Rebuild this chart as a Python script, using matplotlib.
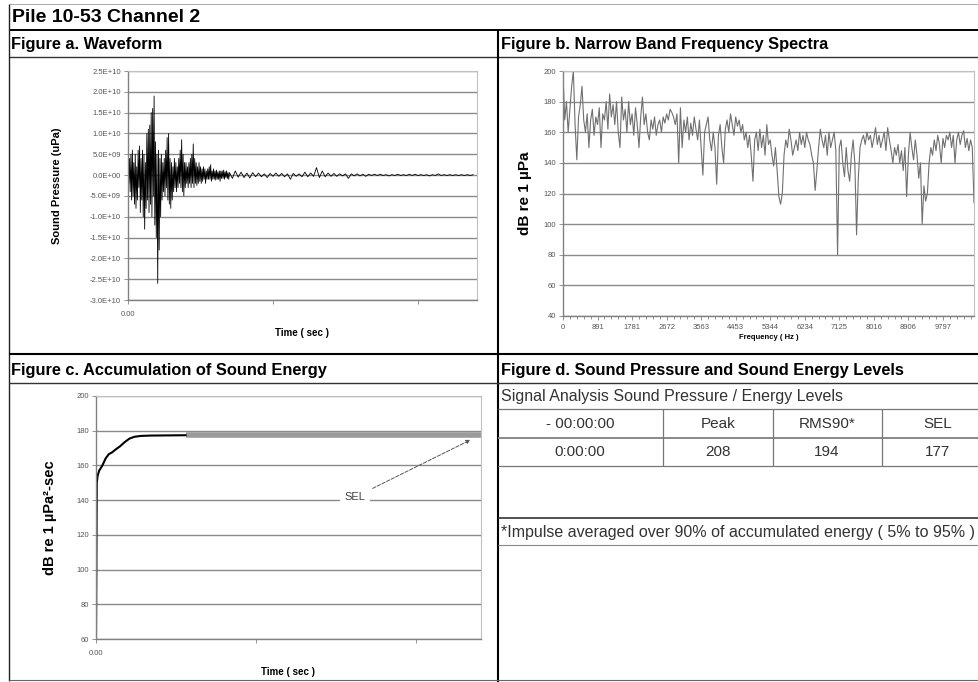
import numpy as np
import matplotlib
matplotlib.use("Agg")
import matplotlib.pyplot as plt

plt.rcParams['font.family'] = ['Liberation Sans', 'DejaVu Sans']

# ---------------- data ----------------
# Figure a: waveform, values in 1E10 uPa
wave_dt_head = 0.0005
wave_head = [
    0.3, -0.2, 0.4, -0.4, 0.5, -0.6, 0.6, -0.5, 0.3, -0.7,
    0.5, -0.8, 0.2, -0.6, 0.6, -0.3, 0.7, -0.9, 0.4, -0.6,
    0.6, -1.0, 0.5, -1.3, 0.3, -0.8, 1.0, -0.6, 1.1, -0.9,
    1.2, -0.7, 1.5, -1.0, 1.6, -0.5, 1.9, -1.2, 0.8, -1.5,
    0.5, -2.6, 0.6, -1.8, 0.4, -1.0, 0.5, -0.6, 0.3, -0.4,
    0.4, -0.5, 0.6, -0.3, 0.9, -0.6, 1.0, -0.7, 0.4, -0.8,
    0.3, -0.6, 0.2, -0.4, 0.4, -0.3, 0.3, -0.4, 0.2, -0.3,
    0.4, -0.2, 0.6, -0.3, 0.85, -0.4, 0.5, -0.5, 0.3, -0.3,
    0.3, -0.2, 0.2, -0.3, 0.3, -0.2, 0.4, -0.3, 0.5, -0.2,
    0.75, -0.3, 0.4, -0.2, 0.3, -0.25, 0.2, -0.2, 0.3, -0.15,
    0.2, -0.2, 0.15, -0.15, 0.2, -0.1, 0.15, -0.2, 0.1, -0.1,
    0.15, -0.1, 0.2, -0.1, 0.25, -0.15, 0.1, -0.1, 0.15, -0.1,
    0.1, -0.12, 0.12, -0.1, 0.08, -0.1, 0.1, -0.15, 0.1, -0.08,
    0.1, -0.08, 0.12, -0.1, 0.08, -0.06, 0.1, -0.08, 0.06, -0.1,
]
wave_dt_tail = 0.002
wave_tail = [
    0.06, -0.08, 0.1, -0.05, 0.07, -0.06, 0.05, -0.07, 0.06, -0.04,
    0.05, -0.04, 0.03, -0.06, 0.04, -0.03, 0.05, -0.03, 0.04, -0.04,
    0.03, -0.1, 0.04, -0.03, 0.03, -0.04, 0.07, -0.04, 0.05, -0.03,
    0.18, -0.06, 0.1, -0.04, 0.05, -0.03, 0.04, -0.03, 0.03, -0.02,
    0.03, -0.08, 0.03, -0.02, 0.03, -0.02, 0.02, -0.03, 0.02, -0.01,
    0.02, -0.01, 0.02, -0.01, 0.01, -0.02, 0.01, -0.01, 0.02, -0.01,
    0.01, -0.01, 0.02, -0.01, 0.02, -0.01, 0.01, -0.01, 0.01, -0.02,
    0.01, -0.01, 0.03, -0.01, 0.01, -0.01, 0.01, -0.01, 0.01, -0.01,
    0.01, -0.01, 0.01, -0.01, 0.01,
]
wave_yticks = [2.5e10, 2.0e10, 1.5e10, 1.0e10, 5.0e9, 0.0, -5.0e9,
               -1.0e10, -1.5e10, -2.0e10, -2.5e10, -3.0e10]
wave_yticklabels = ["2.5E+10", "2.0E+10", "1.5E+10", "1.0E+10", "5.0E+09", "0.0E+00",
                    "-5.0E+09", "-1.0E+10", "-1.5E+10", "-2.0E+10", "-2.5E+10", "-3.0E+10"]
time_ticks = [0.0, 0.1, 0.2]
time_ticklabels = ["0.00", "", ""]

# Figure b: narrow band spectrum, dB re 1 uPa per bin (bin = 44.53 Hz)
spec_db = [
    198, 168, 180, 160, 175, 190, 200, 165, 142, 170,
    178, 190, 168, 160, 172, 150, 168, 175, 158, 170,
    165, 176, 150, 172, 168, 180, 162, 185, 170, 178,
    165, 180, 160, 150, 183, 168, 175, 160, 180, 165,
    172, 158, 176, 165, 150, 170, 183, 165, 172, 160,
    155, 168, 162, 170, 158, 165, 168, 160, 170, 166,
    172, 168, 175, 173, 170, 165, 172, 140, 176, 150,
    168, 160, 170, 155, 166, 158, 170, 162, 155, 168,
    150, 132, 160, 165, 170, 155, 148, 160, 150, 126,
    158, 165, 150, 140, 162, 168, 160, 172, 165, 158,
    170, 164, 168, 160, 165, 155, 160, 150, 158, 145,
    128, 155, 160, 148, 162, 150, 158, 145, 165, 152,
    155, 145, 138, 150, 135, 118, 113, 120, 145, 155,
    150, 162, 155, 145, 150, 155, 148, 160, 152, 158,
    150, 160, 155, 152, 145, 140, 122, 135, 150, 162,
    155, 150, 158, 145, 160, 150, 155, 160, 148, 80,
    150, 155, 140, 131, 150, 135, 128, 145, 155, 140,
    93, 130, 150, 155, 158, 152, 160, 155, 158, 150,
    156, 163, 152, 158, 150, 155, 160, 148, 163, 155,
    148, 140, 150, 145, 152, 140, 148, 135, 150, 118,
    145, 160, 150, 142, 155, 145, 130, 140, 100, 125,
    115, 120, 140, 150, 145, 155, 148, 158, 152, 140,
    156, 150, 158, 155, 160, 150, 158, 140, 155, 160,
    152, 158, 161, 150, 156, 148, 155, 150, 114,
]
freq_labels = ["0", "891", "1781", "2672", "3563", "4453", "5344",
               "6234", "7125", "8016", "8906", "9797"]
spec_yticks = [40, 60, 80, 100, 120, 140, 160, 180, 200]

# Figure c: accumulated sound energy
cum_t = [0.0, 0.0005, 0.001, 0.002, 0.004, 0.006, 0.008, 0.010, 0.012,
         0.015, 0.018, 0.021, 0.024, 0.028, 0.034, 0.045, 0.056]
cum_db = [60, 150, 154, 157, 160, 164, 166.5, 167.5, 169,
          171, 173.5, 175.5, 176.5, 177, 177.2, 177.3, 177.4]
sel_band = [177.8, 177.8]
sel_band_t = [0.056, 0.2406]
cum_yticks = [60, 80, 100, 120, 140, 160, 180, 200]

# Figure d: table
table_head = ["- 00:00:00", "Peak", "RMS90*", "SEL"]
table_row = ["0:00:00", "208", "194", "177"]

# ---------------- figure ----------------
W, H = 979, 682
fig = plt.figure(figsize=(W / 100, H / 100), dpi=100)

# pixel overlay for the report frame
frame = fig.add_axes([0, 0, 1, 1])
frame.set_xlim(0, W)
frame.set_ylim(H, 0)
frame.axis("off")


def hline(y, x0, x1, color="black", lw=1.0):
    frame.plot([x0, x1], [y, y], color=color, lw=lw, solid_capstyle="butt")


def vline(x, y0, y1, color="black", lw=1.0):
    frame.plot([x, x], [y0, y1], color=color, lw=lw, solid_capstyle="butt")


hline(4, 9, W, "#b0b0b0", 0.8)
hline(30, 9, W, "black", 1.4)
hline(57, 9, W, "#333333", 1.0)
vline(9, 4, 681, "#222222", 1.0)
vline(498, 30, H, "black", 1.5)
hline(354, 9, W, "black", 1.5)
hline(383, 9, W, "#333333", 1.0)
hline(680, 9, W, "#666666", 0.8)
hline(409, 498, W, "#777777", 0.9)
hline(438, 498, W, "#888888", 1.4)
hline(466, 498, W, "#777777", 0.9)
hline(518, 498, W, "#333333", 1.2)
hline(545, 498, W, "#888888", 0.8)
for xc in [663, 773, 882]:
    vline(xc, 409, 466, "#777777", 0.9)

frame.text(12, 17, "Pile 10-53 Channel 2", fontsize=14, fontweight="bold", va="center")
frame.text(11, 44, "Figure a. Waveform", fontsize=11.8, fontweight="bold", va="center")
frame.text(501, 44, "Figure b. Narrow Band Frequency Spectra", fontsize=11.8,
           fontweight="bold", va="center")
frame.text(11, 370, "Figure c. Accumulation of Sound Energy", fontsize=11.8,
           fontweight="bold", va="center")
frame.text(501, 370, "Figure d. Sound Pressure and Sound Energy Levels", fontsize=11.8,
           fontweight="bold", va="center")
frame.text(501, 397, "Signal Analysis Sound Pressure / Energy Levels", fontsize=11.5,
           color="#333333", va="center")
for xc, h, r in zip([580, 718, 827, 938], table_head, table_row):
    frame.text(xc, 424, h, fontsize=11, color="#333333", ha="center", va="center")
    frame.text(xc, 452, r, fontsize=11, color="#333333", ha="center", va="center")
frame.text(501, 532, "*Impulse averaged over 90% of accumulated energy ( 5% to 95% )",
           fontsize=11.5, color="#333333", va="center")


def add_px_axes(l, t, r, b):
    return fig.add_axes([l / W, 1 - b / H, (r - l) / W, (b - t) / H])


def style(ax):
    for side in ["left", "bottom"]:
        ax.spines[side].set_color("#808080")
        ax.spines[side].set_linewidth(1.0)
    for side in ["top", "right"]:
        ax.spines[side].set_color("#c0c0c0")
        ax.spines[side].set_linewidth(0.8)
    ax.yaxis.grid(True, color="#8a8a8a", lw=1.0)
    ax.set_axisbelow(True)
    ax.tick_params(axis="both", direction="out", length=3, width=0.6, color="#808080",
                   labelsize=5.5, labelcolor="#555555", pad=2)


ylab_font = ['Liberation Sans Narrow', 'Liberation Sans', 'DejaVu Sans']

# Figure a
ax_a = add_px_axes(128, 71, 477, 300)
t_head = np.arange(len(wave_head)) * wave_dt_head
t_tail = t_head[-1] + wave_dt_head + np.arange(len(wave_tail)) * wave_dt_tail
wave_t = np.concatenate([t_head, t_tail])
wave_p = np.array(wave_head + wave_tail) * 1e10
style(ax_a)
ax_a.plot(wave_t, wave_p, color="black", lw=0.6)
ax_a.set_xlim(0, 0.2407)
ax_a.set_ylim(-3.0e10, 2.5e10)
ax_a.set_yticks(wave_yticks)
ax_a.set_yticklabels(wave_yticklabels)
ax_a.set_xticks(time_ticks)
ax_a.set_xticklabels(time_ticklabels)
ax_a.tick_params(axis="x", pad=5)
ax_a.set_xlabel("Time ( sec )", fontsize=7, fontweight="bold", labelpad=7)
ax_a.set_ylabel("Sound Pressure (uPa)", fontsize=8, fontweight="bold",
                family=ylab_font, labelpad=20)

# Figure b
ax_b = add_px_axes(563, 71, 974, 316)
style(ax_b)
bins = np.arange(len(spec_db))
ax_b.plot(bins, spec_db, color="#707070", lw=0.8)
ax_b.set_xlim(0, len(spec_db) - 1)
ax_b.set_ylim(40, 200)
ax_b.set_yticks(spec_yticks)
ax_b.set_xticks(np.arange(len(freq_labels)) * 20)
ax_b.set_xticklabels(freq_labels)
ax_b.set_xticks(np.arange(0, len(spec_db), 4), minor=True)
ax_b.tick_params(axis="x", which="minor", length=2, width=0.6, color="#808080")
ax_b.tick_params(axis="x", which="major", pad=3)
ax_b.set_xlabel("Frequency ( Hz )", fontsize=5.5, fontweight="bold", labelpad=2)
ax_b.set_ylabel("dB re 1 µPa", fontsize=11, fontweight="bold", family=ylab_font,
                labelpad=8)

# Figure c
ax_c = add_px_axes(96, 396, 481, 639)
style(ax_c)
ax_c.plot(sel_band_t, sel_band, color="#9a9a9a", lw=4, solid_capstyle="butt")
ax_c.plot(cum_t, cum_db, color="black", lw=1.5)
ax_c.set_xlim(0, 0.2406)
ax_c.set_ylim(60, 200)
ax_c.set_yticks(cum_yticks)
ax_c.set_xticks(time_ticks)
ax_c.set_xticklabels(time_ticklabels)
ax_c.tick_params(axis="x", pad=5)
ax_c.set_xlabel("Time ( sec )", fontsize=7, fontweight="bold", labelpad=7)
ax_c.set_ylabel("dB re 1 µPa²-sec", fontsize=10.5, fontweight="bold", family=ylab_font,
                labelpad=14)
ax_c.annotate("SEL", xy=(0.234, 174.7), xytext=(0.162, 141.8), fontsize=8,
              color="#444444", ha="center", va="center",
              bbox=dict(boxstyle="square,pad=0.4", fc="white", ec="none"),
              arrowprops=dict(arrowstyle="-|>", linestyle="--", color="#555555",
                              lw=0.7, mutation_scale=6, shrinkA=2, shrinkB=0))

fig.savefig("out.png", dpi=100)
